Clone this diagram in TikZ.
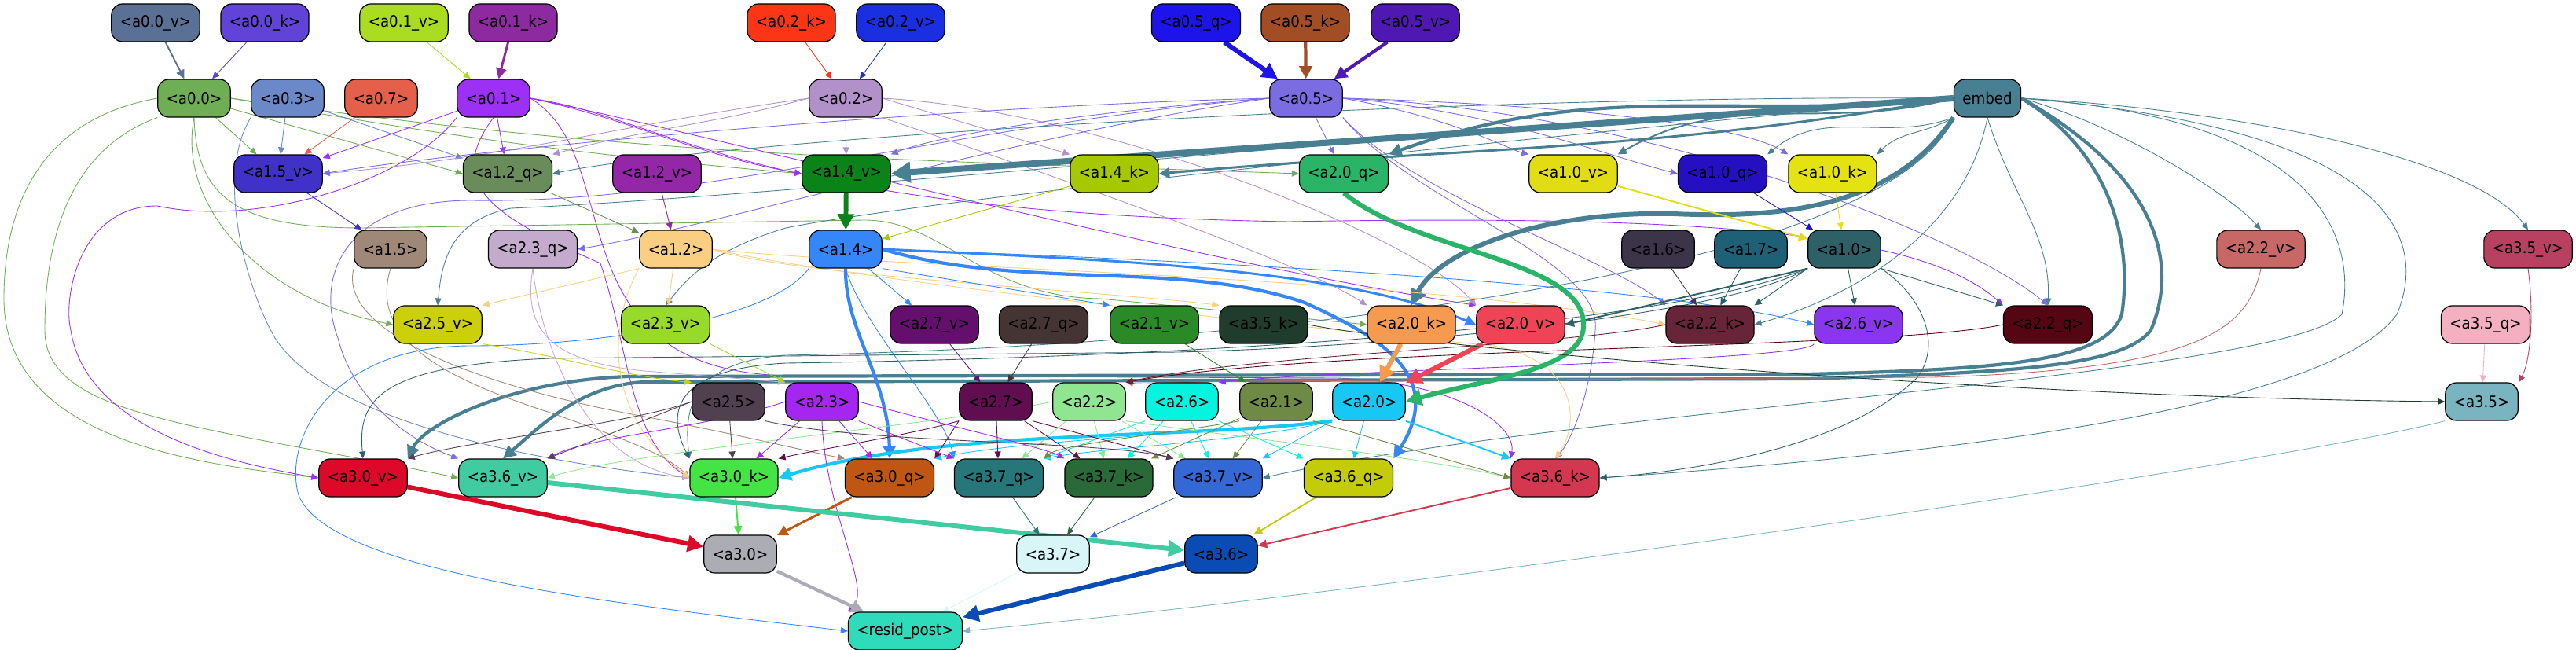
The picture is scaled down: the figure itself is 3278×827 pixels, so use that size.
\documentclass[tikz,border=0pt]{standalone}
\usepackage{fontspec}
\setmainfont{DejaVu Sans Condensed}
\usepackage{tikz}
\usetikzlibrary{arrows.meta}
\pgfdeclarelayer{bg}
\pgfsetlayers{bg,main}
\definecolor{ca00v}{HTML}{5A7094}
\definecolor{ca00k}{HTML}{6243D8}
\definecolor{ca01v}{HTML}{AADC22}
\definecolor{ca01k}{HTML}{8E2AA0}
\definecolor{ca02k}{HTML}{FB3516}
\definecolor{ca02v}{HTML}{1A30E0}
\definecolor{ca05q}{HTML}{1C14E8}
\definecolor{ca05k}{HTML}{A34D25}
\definecolor{ca05v}{HTML}{5018B2}
\definecolor{ca00}{HTML}{6FAE55}
\definecolor{ca03}{HTML}{6B88C8}
\definecolor{ca07}{HTML}{E5604A}
\definecolor{ca01}{HTML}{9D30F5}
\definecolor{ca02}{HTML}{B290CA}
\definecolor{ca05}{HTML}{7B6CE2}
\definecolor{cembed}{HTML}{487F92}
\definecolor{ca15v}{HTML}{4032C8}
\definecolor{ca12q}{HTML}{6A8C5A}
\definecolor{ca12v}{HTML}{9426A8}
\definecolor{ca14v}{HTML}{0A8418}
\definecolor{ca14k}{HTML}{A5C800}
\definecolor{ca20q}{HTML}{2AB468}
\definecolor{ca10v}{HTML}{E2DC14}
\definecolor{ca10q}{HTML}{2410C0}
\definecolor{ca10k}{HTML}{E5E212}
\definecolor{ca15}{HTML}{A08878}
\definecolor{ca23q}{HTML}{C4AACC}
\definecolor{ca12}{HTML}{FBCF82}
\definecolor{ca14}{HTML}{3586F8}
\definecolor{ca16}{HTML}{3C3448}
\definecolor{ca17}{HTML}{1E6076}
\definecolor{ca10}{HTML}{2E6068}
\definecolor{ca22v}{HTML}{C86866}
\definecolor{ca35v}{HTML}{B84060}
\definecolor{ca25v}{HTML}{CCD00A}
\definecolor{ca23v}{HTML}{98DA2A}
\definecolor{ca27v}{HTML}{640E6E}
\definecolor{ca27q}{HTML}{443434}
\definecolor{ca21v}{HTML}{2A8A28}
\definecolor{ca35k}{HTML}{203C2C}
\definecolor{ca20k}{HTML}{F59A4E}
\definecolor{ca20v}{HTML}{EE4455}
\definecolor{ca22k}{HTML}{682438}
\definecolor{ca26v}{HTML}{8A36EE}
\definecolor{ca22q}{HTML}{560612}
\definecolor{ca35q}{HTML}{F4B0C0}
\definecolor{ca25}{HTML}{504050}
\definecolor{ca23}{HTML}{A426F0}
\definecolor{ca27}{HTML}{600E50}
\definecolor{ca22}{HTML}{90E690}
\definecolor{ca26}{HTML}{04F4E0}
\definecolor{ca21}{HTML}{6E8A44}
\definecolor{ca20}{HTML}{18C8F4}
\definecolor{ca35}{HTML}{7AB4C0}
\definecolor{ca30v}{HTML}{DC0A28}
\definecolor{ca36v}{HTML}{40CCA0}
\definecolor{ca30k}{HTML}{44E444}
\definecolor{ca30q}{HTML}{C05614}
\definecolor{ca37q}{HTML}{26767A}
\definecolor{ca37k}{HTML}{2A6A38}
\definecolor{ca37v}{HTML}{3468D4}
\definecolor{ca36q}{HTML}{C4CC0A}
\definecolor{ca36k}{HTML}{D43850}
\definecolor{ca30}{HTML}{ACACB4}
\definecolor{ca37}{HTML}{D8F6F8}
\definecolor{ca36}{HTML}{0A4CB4}
\definecolor{cresid}{HTML}{2EDCBC}

\begin{document}
\begin{tikzpicture}[x=0.02cm, y=-0.02cm,
    blk/.style={rectangle, rounded corners=0.28cm, draw=black, line width=0.7pt,
                minimum height=0.96cm, inner xsep=0.22cm, font=\fontsize{11.5}{13}\selectfont},
    ed/.style={-{Triangle[length=4pt 2.2, width=3.4pt 2.4]}, line width=0.5pt},
    w1/.style={line width=1.1pt},
    w2/.style={line width=1.7pt},
    w3/.style={line width=2.4pt},
    w4/.style={line width=3.4pt},
    w5/.style={line width=4.6pt}
  ]
  \useasboundingbox (0,0) rectangle (3278,827);

  % rank 0
  \node[blk, fill=ca00v] (a00v) at (198,29) {<a0.0\_v>};
  \node[blk, fill=ca00k] (a00k) at (337,29) {<a0.0\_k>};
  \node[blk, fill=ca01v] (a01v) at (514,29) {<a0.1\_v>};
  \node[blk, fill=ca01k] (a01k) at (653,29) {<a0.1\_k>};
  \node[blk, fill=ca02k] (a02k) at (1007,29) {<a0.2\_k>};
  \node[blk, fill=ca02v] (a02v) at (1146,29) {<a0.2\_v>};
  \node[blk, fill=ca05q] (a05q) at (1522,29) {<a0.5\_q>};
  \node[blk, fill=ca05k] (a05k) at (1661,29) {<a0.5\_k>};
  \node[blk, fill=ca05v] (a05v) at (1801,29) {<a0.5\_v>};
  % rank 1
  \node[blk, fill=ca00] (a00) at (247,125) {<a0.0>};
  \node[blk, fill=ca03] (a03) at (366,125) {<a0.3>};
  \node[blk, fill=ca07] (a07) at (485,125) {<a0.7>};
  \node[blk, fill=ca01] (a01) at (628,125) {<a0.1>};
  \node[blk, fill=ca02] (a02) at (1076,125) {<a0.2>};
  \node[blk, fill=ca05] (a05) at (1662,125) {<a0.5>};
  \node[blk, fill=cembed] (embed) at (2529,125) {embed};
  % rank 2
  \node[blk, fill=ca15v] (a15v) at (354,221) {<a1.5\_v>};
  \node[blk, fill=ca12q] (a12q) at (646,221) {<a1.2\_q>};
  \node[blk, fill=ca12v] (a12v) at (836,221) {<a1.2\_v>};
  \node[blk, fill=ca14v] (a14v) at (1077,221) {<a1.4\_v>};
  \node[blk, fill=ca14k] (a14k) at (1418,221) {<a1.4\_k>};
  \node[blk, fill=ca20q] (a20q) at (1710,221) {<a2.0\_q>};
  \node[blk, fill=ca10v] (a10v) at (2002,221) {<a1.0\_v>};
  \node[blk, fill=ca10q] (a10q) at (2192,221) {<a1.0\_q>};
  \node[blk, fill=ca10k] (a10k) at (2332,221) {<a1.0\_k>};
  % rank 3
  \node[blk, fill=ca15] (a15) at (497,317) {<a1.5>};
  \node[blk, fill=ca23q] (a23q) at (678,317) {<a2.3\_q>};
  \node[blk, fill=ca12] (a12) at (860,317) {<a1.2>};
  \node[blk, fill=ca14] (a14) at (1076,317) {<a1.4>};
  \node[blk, fill=ca16] (a16) at (2110,317) {<a1.6>};
  \node[blk, fill=ca17] (a17) at (2228,317) {<a1.7>};
  \node[blk, fill=ca10] (a10) at (2347,317) {<a1.0>};
  \node[blk, fill=ca22v] (a22v) at (2877,317) {<a2.2\_v>};
  \node[blk, fill=ca35v] (a35v) at (3217,317) {<a3.5\_v>};
  % rank 4
  \node[blk, fill=ca25v] (a25v) at (557,413) {<a2.5\_v>};
  \node[blk, fill=ca23v] (a23v) at (847,413) {<a2.3\_v>};
  \node[blk, fill=ca27v] (a27v) at (1189,413) {<a2.7\_v>};
  \node[blk, fill=ca27q] (a27q) at (1328,413) {<a2.7\_q>};
  \node[blk, fill=ca21v] (a21v) at (1469,413) {<a2.1\_v>};
  \node[blk, fill=ca35k] (a35k) at (1608,413) {<a3.5\_k>};
  \node[blk, fill=ca20k] (a20k) at (1796,413) {<a2.0\_k>};
  \node[blk, fill=ca20v] (a20v) at (1935,413) {<a2.0\_v>};
  \node[blk, fill=ca22k] (a22k) at (2176,413) {<a2.2\_k>};
  \node[blk, fill=ca26v] (a26v) at (2365,413) {<a2.6\_v>};
  \node[blk, fill=ca22q] (a22q) at (2606,413) {<a2.2\_q>};
  \node[blk, fill=ca35q] (a35q) at (3163,413) {<a3.5\_q>};
  % rank 5
  \node[blk, fill=ca25] (a25) at (927,511) {<a2.5>};
  \node[blk, fill=ca23] (a23) at (1046,511) {<a2.3>};
  \node[blk, fill=ca27] (a27) at (1267,511) {<a2.7>};
  \node[blk, fill=ca22] (a22) at (1386,511) {<a2.2>};
  \node[blk, fill=ca26] (a26) at (1504,511) {<a2.6>};
  \node[blk, fill=ca21] (a21) at (1624,511) {<a2.1>};
  \node[blk, fill=ca20] (a20) at (1742,511) {<a2.0>};
  \node[blk, fill=ca35] (a35) at (3158,511) {<a3.5>};
  % rank 6
  \node[blk, fill=ca30v] (a30v) at (462,608) {<a3.0\_v>};
  \node[blk, fill=ca36v] (a36v) at (640,608) {<a3.6\_v>};
  \node[blk, fill=ca30k] (a30k) at (934,608) {<a3.0\_k>};
  \node[blk, fill=ca30q] (a30q) at (1132,608) {<a3.0\_q>};
  \node[blk, fill=ca37q] (a37q) at (1271,608) {<a3.7\_q>};
  \node[blk, fill=ca37k] (a37k) at (1411,608) {<a3.7\_k>};
  \node[blk, fill=ca37v] (a37v) at (1550,608) {<a3.7\_v>};
  \node[blk, fill=ca36q] (a36q) at (1716,608) {<a3.6\_q>};
  \node[blk, fill=ca36k] (a36k) at (1979,608) {<a3.6\_k>};
  % rank 7 and 8
  \node[blk, fill=ca30] (a30) at (942,705) {<a3.0>};
  \node[blk, fill=ca37] (a37) at (1340,705) {<a3.7>};
  \node[blk, fill=ca36] (a36) at (1554,705) {<a3.6>};
  \node[blk, fill=cresid] (resid) at (1152,803) {<resid\_post>};

  \begin{pgfonlayer}{bg}
  % inputs of layer 0
  \draw[ed, w1, ca00v] (a00v) -- (a00);
  \draw[ed, ca00k] (a00k) -- (a00);
  \draw[ed, ca01v] (a01v) -- (a01);
  \draw[ed, w2, ca01k] (a01k) -- (a01);
  \draw[ed, ca02k] (a02k) -- (a02);
  \draw[ed, ca02v] (a02v) -- (a02);
  \draw[ed, w4, ca05q] (a05q) -- (a05);
  \draw[ed, w3, ca05k] (a05k) -- (a05);
  \draw[ed, w3, ca05v] (a05v) -- (a05);

  % a0.0
  \draw[ed, ca00] (a00) -- (a15v);
  \draw[ed, ca00] (a00) -- (a12q.west);
  \draw[ed, ca00] (a00.east) to[out=-10, in=175] (a14v.west);
  \draw[ed, ca00] (a00.east) to[out=-8, in=178] (a20q.west);
  \draw[ed, ca00] (a00.south) .. controls (250,250) and (300,290) .. (460,290)
        -- (1100,280) .. controls (1200,280) and (1250,378) .. (1400,380) -- (a20k.west);
  \draw[ed, ca00] (a00.south) .. controls (225,260) and (330,380) .. (a25v.west);
  \draw[ed, ca00] (a00.west) .. controls (60,150) and (5,250) .. (5,380)
        .. controls (5,560) and (250,590) .. (a30v.west);
  \draw[ed, ca00] (a00.south west) .. controls (90,190) and (57,300) .. (57,420)
        .. controls (57,530) and (250,540) .. (a36v.west);

  % a0.3, a0.7
  \draw[ed, ca03] (a03) -- (a15v);
  \draw[ed, ca03] (a03) -- (a12q);
  \draw[ed, ca03] (a03.south west) .. controls (270,230) and (320,380) .. (350,430)
        .. controls (420,540) and (700,590) .. (a30k.west);
  \draw[ed, ca07] (a07) -- (a15v);

  % a0.1
  \draw[ed, ca01] (a01) -- (a15v);
  \draw[ed, ca01] (a01) -- (a12q);
  \draw[ed, ca01] (a01.east) to[out=-12, in=170] (a14v.west);
  \draw[ed, ca01] (a01.south west) .. controls (520,230) and (330,290) .. (200,262)
        .. controls (100,262) and (80,380) .. (90,420) .. controls (110,550) and (300,590) .. (a30v.west);
  \draw[ed, ca01] (a01.south) .. controls (560,240) and (640,280) .. (764,335)
        .. controls (800,440) and (800,560) .. (a30k.west);
  \draw[ed, ca01] (a01.east) .. controls (850,150) and (950,270) .. (1640,282)
        .. controls (2200,272) and (2450,300) .. (a22q.north west);
  \draw[ed, ca01] (a01.east) .. controls (800,200) and (700,470) .. (1000,478)
        -- (1700,481) .. controls (1850,485) and (1930,540) .. (a36k.north west);
  \draw[ed, ca01] (a01.east) .. controls (900,170) and (1500,330) .. (a20v.north west);

  % a0.2
  \draw[ed, ca02] (a02) -- (a14v);
  \draw[ed, ca02] (a02.west) to[out=188, in=5] (a15v.east);
  \draw[ed, ca02] (a02.west) to[out=195, in=15] (a12q.north east);
  \draw[ed, ca02] (a02.east) -- (a14k.north west);
  \draw[ed, ca02] (a02.east) .. controls (1400,140) and (1800,300) .. (a20v.north west);
  \draw[ed, ca02] (a02.south east) .. controls (1300,210) and (1650,330) .. (a20k.north west);

  % a0.5
  \draw[ed, ca05] (a05) -- (a20q);
  \draw[ed, ca05] (a05.west) .. controls (1400,140) and (1200,170) .. (a14v.north east);
  \draw[ed, ca05] (a05.west) .. controls (1200,135) and (600,190) .. (a15v.east);
  \draw[ed, ca05] (a05.west) .. controls (1300,170) and (900,290) .. (a23q.east);
  \draw[ed, ca05] (a05.east) .. controls (1850,150) and (1920,190) .. (a10v.north west);
  \draw[ed, ca05] (a05.east) .. controls (1900,140) and (2050,200) .. (a10q.west);
  \draw[ed, ca05] (a05.east) .. controls (1900,130) and (2200,150) .. (a10k.north west);
  \draw[ed, ca05] (a05.south east) .. controls (1800,250) and (2050,330) .. (a22k.north west);
  \draw[ed, ca05] (a05.east) .. controls (2100,140) and (2500,300) .. (a22q.north);
  \draw[ed, ca05] (a05.south east) .. controls (1800,260) and (2040,330) .. (2030,420)
        .. controls (2025,500) and (2000,560) .. (a36k.north);
  \draw[ed, ca05] (a05.west) .. controls (1200,160) and (900,260) .. (600,255)
        .. controls (440,255) and (400,350) .. (430,430) .. controls (450,510) and (520,560) .. (a36v.north west);

  % embed
  \draw[ed, w5, cembed] (embed.west) -- (a14v.east);
  \draw[ed, w3, cembed] (embed.west) to[out=186, in=20] (a20q.north east);
  \draw[ed, w2, cembed] (embed.west) to[out=190, in=5] (a14k.east);
  \draw[ed, cembed] (embed.west) .. controls (1800,120) and (900,180) .. (a12q.east);
  \draw[ed, w1, cembed] (embed.west) to[out=195, in=30] (a10v.north east);
  \draw[ed, cembed] (embed.south west) to[out=200, in=40] (a10q.north east);
  \draw[ed, cembed] (embed.south west) to[out=210, in=45] (a10k.north east);
  \draw[ed, w4, cembed] (embed.south west) .. controls (2420,250) and (2300,280) .. (2130,272)
        .. controls (1960,268) and (1830,320) .. (a20k.north);
  \draw[ed, w3, cembed] (embed.east) .. controls (2680,190) and (2715,300) .. (2700,400)
        .. controls (2680,460) and (2550,470) .. (2300,476) -- (800,479)
        .. controls (650,484) and (540,540) .. (a30v.north east);
  \draw[ed, w3, cembed] (embed.east) .. controls (2740,220) and (2775,330) .. (2737,420)
        .. controls (2700,468) and (2550,474) .. (2300,482) -- (820,486)
        .. controls (740,490) and (690,540) .. (a36v.north);
  \draw[ed, cembed] (embed.west) .. controls (2000,150) and (1000,250) .. (650,265)
        .. controls (575,280) and (562,330) .. (a25v.north);
  \draw[ed, cembed] (embed.west) .. controls (2000,170) and (1200,250) .. (1000,290)
        .. controls (900,320) and (870,360) .. (a23v.north);
  \draw[ed, cembed] (embed.south) .. controls (2500,300) and (2350,380) .. (a22k.east);
  \draw[ed, cembed] (embed.south) .. controls (2560,250) and (2610,300) .. (a22q.north);
  \draw[ed, cembed] (embed.east) .. controls (2700,160) and (2840,250) .. (a22v.north);
  \draw[ed, cembed] (embed.east) .. controls (2850,140) and (3150,200) .. (a35v.north);
  \draw[ed, cembed] (embed.east) .. controls (3000,160) and (3100,280) .. (3050,400)
        .. controls (2950,540) and (2300,590) .. (a36k.east);
  \draw[ed, cembed] (embed.east) .. controls (2950,150) and (3000,300) .. (2980,400)
        .. controls (2900,480) and (2000,520) .. (a37v.east);
  \draw[ed, cembed] (embed.south west) .. controls (2400,350) and (1600,440) .. (1000,452)
        .. controls (880,460) and (870,520) .. (a30k.north west);

  % layer 1 inputs
  \draw[ed, ca15v] (a15v) -- (a15);
  \draw[ed, ca12q] (a12q) -- (a12);
  \draw[ed, ca12v] (a12v) -- (a12);
  \draw[ed, w4, ca14v] (a14v) -- (a14);
  \draw[ed, ca14k] (a14k) -- (a14);
  \draw[ed, w1, ca10v] (a10v) -- (a10);
  \draw[ed, ca10q] (a10q) -- (a10);
  \draw[ed, ca10k] (a10k) -- (a10);

  % a1.5, a2.3_q, a1.2
  \draw[ed, ca15] (a15.south west) .. controls (430,420) and (600,490) .. (820,530)
        .. controls (950,555) and (1030,575) .. (a30q.north west);
  \draw[ed, ca15] (a15.south) .. controls (470,430) and (560,480) .. (700,525)
        .. controls (800,560) and (850,580) .. (a30k.west);
  \draw[ed, ca23q] (a23q.south) .. controls (665,420) and (700,460) .. (820,472) -- (a23.north west);
  \draw[ed, ca23q] (a23q.south) .. controls (690,450) and (750,590) .. (a30k.west);
  \draw[ed, ca12] (a12.south west) -- (a25v.north east);
  \draw[ed, ca12] (a12) -- (a23v);
  \draw[ed, ca12] (a12.south west) .. controls (780,400) and (760,520) .. (a30k.west);
  \draw[ed, ca12] (a12.east) .. controls (1000,350) and (1400,370) .. (a35k.north west);
  \draw[ed, ca12] (a12.east) .. controls (1100,340) and (1800,350) .. (a22k.west);
  \draw[ed, ca12] (a12.east) .. controls (1100,360) and (1700,420) .. (1900,440)
        .. controls (2010,460) and (2010,540) .. (a36k.north);

  % a1.4
  \draw[ed, ca14] (a14) -- (a27v);
  \draw[ed, ca14] (a14.south east) -- (a21v.north west);
  \draw[ed, w3, ca14] (a14.south) .. controls (1075,420) and (1130,480) .. (a30q.north);
  \draw[ed, ca14] (a14.south) .. controls (1100,420) and (1200,520) .. (a37q.north west);
  \draw[ed, w3, ca14] (a14.east) .. controls (1300,370) and (1500,330) .. (1660,385)
        .. controls (1760,430) and (1840,480) .. (a36q.north east);
  \draw[ed, w2, ca14] (a14.east) .. controls (1400,330) and (1700,340) .. (a20v.west);
  \draw[ed, ca14] (a14.east) .. controls (1500,330) and (2100,360) .. (a26v.west);
  \draw[ed, ca14] (a14.south west) .. controls (980,410) and (750,440) .. (600,440)
        .. controls (420,440) and (360,560) .. (380,630) .. controls (420,730) and (800,770) .. (resid.west);

  % a1.6, a1.7, a1.0
  \draw[ed, ca16] (a16) -- (a22k);
  \draw[ed, ca17] (a17) -- (a22k);
  \draw[ed, ca10] (a10.south west) -- (a22k.north east);
  \draw[ed, ca10] (a10) -- (a26v);
  \draw[ed, w1, ca10] (a10.south west) -- (a20v.east);
  \draw[ed, ca10] (a10.south east) -- (a22q.north west);
  \draw[ed, ca10] (a10.south east) .. controls (2450,380) and (2470,440) .. (2440,480)
        .. controls (2350,570) and (2150,600) .. (a36k.east);
  \draw[ed, ca10] (a10.south west) .. controls (2200,400) and (1800,440) .. (1500,448)
        -- (700,456) .. controls (480,465) and (455,510) .. (a30v.north);
  \draw[ed, ca10] (a10.south west) .. controls (2100,420) and (1500,455) .. (1000,462)
        .. controls (850,470) and (850,530) .. (a30k.north west);

  % layer 2 inputs
  \draw[ed, ca22v] (a22v.south) .. controls (2860,420) and (2800,470) .. (2460,480)
        -- (1600,485) .. controls (1500,485) and (1460,490) .. (a22.north east);
  \draw[ed, ca22q] (a22q.west) .. controls (2400,445) and (1700,440) .. (a22.north east);
  \draw[ed, ca22k] (a22k.west) .. controls (2000,440) and (1600,450) .. (a22.north east);
  \draw[ed, ca27v] (a27v) -- (a27);
  \draw[ed, ca27q] (a27q) -- (a27);
  \draw[ed, ca21v] (a21v) -- (a21);
  \draw[ed, ca26v] (a26v.south west) .. controls (2300,460) and (1700,470) .. (a26.north east);
  \draw[ed, ca25v] (a25v.south east) .. controls (700,450) and (800,480) .. (a25.north west);
  \draw[ed, ca23v] (a23v.south east) -- (a23.north west);
  \draw[ed, w4, ca20k] (a20k) -- (a20);
  \draw[ed, w4, ca20v] (a20v) -- (a20);
  \draw[ed, w4, ca20q] (a20q.south) .. controls (1800,320) and (2010,330) .. (2015,410)
        .. controls (2020,470) and (1900,480) .. (a20.east);
  \draw[ed, ca35v] (a35v.south) .. controls (3225,400) and (3220,460) .. (a35.north east);
  \draw[ed, ca35q] (a35q) -- (a35);
  \draw[ed, ca35k] (a35k.east) .. controls (1800,440) and (2500,505) .. (a35.west);

  % layer 2 outputs
  \draw[ed, w3, ca20] (a20.south west) .. controls (1500,560) and (1200,545) .. (a30k.east);
  \draw[ed, ca20] (a20) -- (a36q);
  \draw[ed, w1, ca20] (a20.south east) -- (a36k.north west);
  \draw[ed, ca20] (a20.south west) -- (a37v.north east);
  \draw[ed, ca20] (a20.south west) .. controls (1600,560) and (1400,570) .. (a37q.north east);
  \draw[ed, ca20] (a20.south west) .. controls (1550,550) and (1300,560) .. (a30q.north east);
  \draw[ed, ca26] (a26) -- (a37k);
  \draw[ed, ca26] (a26) -- (a37v);
  \draw[ed, ca26] (a26.south east) -- (a36q.north west);
  \draw[ed, ca26] (a26.south west) -- (a37q.north east);
  \draw[ed, ca22] (a22) -- (a37q);
  \draw[ed, ca22] (a22) -- (a37k);
  \draw[ed, ca22] (a22) -- (a37v);
  \draw[ed, ca22] (a22.west) .. controls (1200,540) and (800,575) .. (a36v.east);
  \draw[ed, ca22] (a22.south east) .. controls (1600,560) and (1800,580) .. (a36k.west);
  \draw[ed, ca21] (a21) -- (a37v);
  \draw[ed, ca21] (a21) -- (a37k);
  \draw[ed, ca21] (a21.south west) .. controls (1500,550) and (1350,565) .. (a37q.north east);
  \draw[ed, ca21] (a21.south east) -- (a36k.west);
  \draw[ed, ca27] (a27) -- (a37q);
  \draw[ed, ca27] (a27) -- (a37k);
  \draw[ed, ca27] (a27.south east) -- (a37v.north west);
  \draw[ed, ca27] (a27.south west) -- (a30q.north east);
  \draw[ed, ca27] (a27.south west) .. controls (1150,555) and (1050,570) .. (a30k.north east);
  \draw[ed, ca23] (a23) -- (a30k);
  \draw[ed, ca23] (a23) -- (a30q);
  \draw[ed, ca23] (a23.south east) -- (a37q.north west);
  \draw[ed, ca23] (a23.east) .. controls (1200,540) and (1330,570) .. (a37k.north west);
  \draw[ed, ca23] (a23.south) .. controls (1050,650) and (1110,750) .. (resid.north west);
  \draw[ed, ca23] (a23.west) .. controls (900,545) and (750,555) .. (a36v.north east);
  \draw[ed, ca25] (a25) -- (a30k);
  \draw[ed, ca25] (a25.west) .. controls (800,540) and (600,560) .. (a30v.north east);
  \draw[ed, ca25] (a25.west) -- (a36v.north east);
  \draw[ed, ca25] (a25.south east) .. controls (1100,565) and (1400,560) .. (a37v.north west);

  % layer 3
  \draw[ed, w4, ca30v] (a30v) -- (a30);
  \draw[ed, w1, ca30k] (a30k) -- (a30);
  \draw[ed, w2, ca30q] (a30q) -- (a30);
  \draw[ed, w4, ca36v] (a36v) -- (a36);
  \draw[ed, w1, ca36q] (a36q) -- (a36);
  \draw[ed, w1, ca36k] (a36k) -- (a36);
  \draw[ed, ca37q] (a37q) -- (a37);
  \draw[ed, ca37k] (a37k) -- (a37);
  \draw[ed, ca37v] (a37v) -- (a37);
  \draw[ed, w3, ca30] (a30) -- (resid);
  \draw[ed, w4, ca36] (a36) -- (resid);
  \draw[ed, ca37] (a37) -- (resid);
  \draw[ed, ca35] (a35.south west) .. controls (2900,590) and (1800,750) .. (resid.east);
  \end{pgfonlayer}
\end{tikzpicture}
\end{document}
